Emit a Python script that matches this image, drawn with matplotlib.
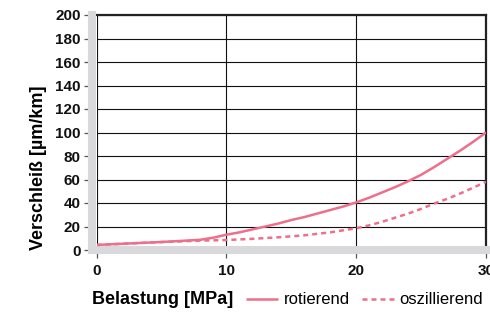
# Verschleiss vs. Belastung chart
import matplotlib
matplotlib.use('Agg')
import matplotlib.pyplot as plt

# data
rot_x = [0, 2, 4, 6, 8, 9, 10, 11, 12, 13, 14, 15, 16, 17, 18, 19, 20,
         21, 22, 23, 24, 25, 26, 27, 28, 29, 30]
rotierend = [4.3, 5.3, 6.3, 7.4, 8.7, 10.5, 13, 15, 17.5, 20, 22.5, 25.5, 28,
             31, 34, 37, 40.5, 44.5, 49, 53.5, 58.5, 64, 70.5, 77.5, 84.5,
             92, 100]
osz_x = [0, 4, 8, 10, 12, 14, 16, 18, 20, 21, 22, 23, 24, 25, 26, 27, 28,
         29, 30]
oszillierend = [4.3, 6.3, 8, 8.5, 9.5, 10.8, 12.5, 15, 18.5, 21, 24, 27.5,
                31, 35, 39.5, 43.5, 48, 53, 58]
xticks = [0, 10, 20, 30]
yticks = list(range(0, 201, 20))

pink = '#ec6f8b'
band = '#d9d9db'

plt.rcParams['font.family'] = ['Liberation Sans', 'DejaVu Sans']

fig = plt.figure(figsize=(4.9, 3.12), dpi=100)
ax = fig.add_axes([96.5 / 490, 1 - 250 / 312, 389.5 / 490, 235 / 312])

ax.plot(rot_x, rotierend, color=pink, lw=1.8, zorder=4,
        solid_capstyle='butt', label='rotierend')
ax.plot(osz_x, oszillierend, color=pink, lw=1.8, ls=(0, (2, 1.6)), zorder=4,
        label='oszillierend')

ax.set_xlim(0, 30); ax.set_ylim(0, 200)
ax.set_xticks(xticks); ax.set_yticks(yticks)
ax.grid(True, color='#111111', lw=0.8)
ax.set_axisbelow(True)

for s in ['left', 'bottom']:
    ax.spines[s].set_color(band)
    ax.spines[s].set_linewidth(5.8)
    ax.spines[s].set_zorder(3)
ax.spines['left'].set_position(('outward', 3.3))
for s in ['top', 'right']:
    ax.spines[s].set_color('#222222')
    ax.spines[s].set_linewidth(1.6)

ax.tick_params(axis='both', length=6, width=0.9, color='#555555',
               labelsize=11, labelcolor='#111111')
ax.tick_params(axis='y', pad=2)
ax.tick_params(axis='x', pad=4)
for lb in ax.get_xticklabels() + ax.get_yticklabels():
    lb.set_fontweight('bold')

ax.set_ylabel('Verschleiß [µm/km]', fontsize=13, fontweight='bold',
              loc='bottom', labelpad=6)
ax.set_xlabel('Belastung [MPa]', fontsize=13, fontweight='bold',
              ha='left', va='center')
ax.xaxis.set_label_coords(-4.5 / 389.5, -50 / 235)

fig.legend(loc='center left', bbox_to_anchor=(246 / 490, 1 - 300 / 312),
           ncol=2, frameon=False, fontsize=12, handlelength=1.9,
           handletextpad=0.35, columnspacing=0.75, borderaxespad=0,
           borderpad=0)

fig.savefig('out.png', dpi=100)
